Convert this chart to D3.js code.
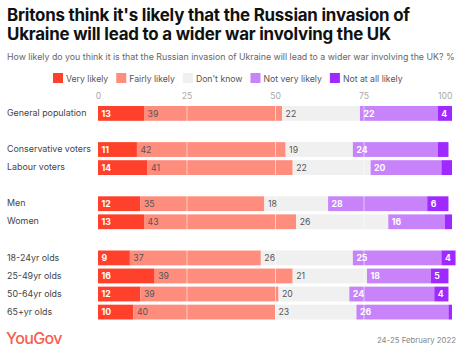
<!DOCTYPE html>
<html><head><meta charset="utf-8">
<script src="https://cdn.jsdelivr.net/npm/d3@7"></script>
<style>
html,body{margin:0;padding:0;background:#fff;}
svg{display:block;}
</style></head>
<body>
<svg id="chart" width="473" height="355"></svg>
<script>
const titleLines = ["Britons think it's likely that the Russian invasion of", "Ukraine will lead to a wider war involving the UK"];
const subtitle = "How likely do you think it is that the Russian invasion of Ukraine will lead to a wider war involving the UK? %";
const seriesNames = ["Very likely", "Fairly likely", "Don't know", "Not very likely", "Not at all likely"];
const seriesColors = ["#ff412c", "#ff8d7d", "#f0f0f0", "#c883fb", "#9f29ff"];
const labelColors = ["#fff", "#555", "#555", "#fff", "#fff"];
const categories = ["General population", null, "Conservative voters", "Labour voters", null, "Men", "Women", null, "18-24yr olds", "25-49yr olds", "50-64yr olds", "65+yr olds"];
const veryLikely     = [13, null, 11, 14, null, 12, 13, null,  9, 16, 12, 10];
const fairlyLikely   = [39, null, 42, 41, null, 35, 43, null, 37, 39, 39, 40];
const dontKnow       = [22, null, 19, 22, null, 18, 26, null, 26, 21, 20, 23];
const notVeryLikely  = [22, null, 24, 20, null, 28, 16, null, 25, 18, 24, 26];
const notAtAllLikely = [ 4, null,  3,  3, null,  6,  2, null,  4,  5,  4,  1];
const tickValues = [0, 25, 50, 75, 100];
const source = "24-25 February 2022";
const brand = "YouGov";

const series = [veryLikely, fairlyLikely, dontKnow, notVeryLikely, notAtAllLikely];
const FONT = "Inter, 'Noto Sans', sans-serif";
const svg = d3.select("#chart");

// Title
svg.append("g").selectAll("text").data(titleLines).join("text")
  .attr("x", 7).attr("y", (d,i) => 20.5 + i*19)
  .attr("font-family", FONT).attr("font-weight", 700).attr("font-size", 16.9)
  .attr("fill", "#111").attr("letter-spacing", -0.2).text(d => d);

svg.append("text").attr("x", 7).attr("y", 60)
  .attr("font-family", FONT).attr("font-size", 8.8).attr("fill", "#666")
  .text(subtitle);

// Legend
const legend = svg.append("g");
let lx = 53;
seriesNames.forEach((name, i) => {
  const g = legend.append("g").attr("transform", `translate(${lx},73)`);
  g.append("rect").attr("width", 10).attr("height", 10).attr("fill", seriesColors[i]);
  const t = g.append("text").attr("x", 13).attr("y", 8.5)
    .attr("font-family", FONT).attr("font-size", 8.7).attr("fill", "#555").text(name);
  lx += 13 + t.node().getComputedTextLength() + 8;
});

// Scales
const x = d3.scaleLinear().domain([0, 100]).range([98, 452]);
const y = d3.scaleBand().domain(d3.range(categories.length)).range([106, 319.5]).paddingInner(0.18).paddingOuter(0);

// Axis
const axis = svg.append("g").attr("transform", "translate(0,99)")
  .call(d3.axisTop(x).tickValues(tickValues).tickSize(0).tickPadding(0));
axis.select(".domain").remove();
axis.selectAll("text").attr("font-family", FONT).attr("font-size", 8.7).attr("fill", "#aaa")
  .attr("text-anchor", d => d === 100 ? "end" : "middle")
  .attr("dy", 0);

// Row labels
const rows = categories.map((c, i) => ({c, i})).filter(d => d.c !== null);
svg.append("g").selectAll("text").data(rows).join("text")
  .attr("x", 7).attr("y", d => y(d.i) + y.bandwidth()/2)
  .attr("dy", "0.3em")
  .attr("font-family", FONT).attr("font-size", 8.9).attr("fill", "#444")
  .text(d => d.c);

// Stacked bars
const stacked = [];
rows.forEach(r => {
  let cum = 0;
  series.forEach((s, k) => {
    const v = s[r.i];
    stacked.push({i: r.i, k, v, x0: cum, x1: cum + v});
    cum += v;
  });
});
svg.append("g").selectAll("rect").data(stacked).join("rect")
  .attr("x", d => x(d.x0)).attr("y", d => y(d.i))
  .attr("width", d => x(d.x1) - x(d.x0)).attr("height", y.bandwidth())
  .attr("fill", d => seriesColors[d.k]);

// Gridlines over bars
svg.append("g").selectAll("line").data([25, 50, 75]).join("line")
  .attr("x1", d => x(d) + 0.5).attr("x2", d => x(d) + 0.5)
  .attr("y1", 104).attr("y2", 320)
  .attr("stroke", "#fff").attr("stroke-opacity", 0.55).attr("stroke-width", 1);

// Value labels
svg.append("g").selectAll("text").data(stacked.filter(d => d.v >= 4)).join("text")
  .attr("x", d => x(d.x0) + 3.5).attr("y", d => y(d.i) + y.bandwidth()/2)
  .attr("dy", "0.36em")
  .attr("font-family", FONT).attr("font-size", 8.7)
  .attr("font-weight", d => labelColors[d.k] === "#fff" ? 700 : 400)
  .attr("fill", d => labelColors[d.k])
  .text(d => d.v);

// Footer
svg.append("text").attr("x", 6).attr("y", 344)
  .attr("font-family", FONT).attr("font-weight", 500).attr("font-size", 16)
  .attr("letter-spacing", -0.6).attr("fill", "#f5604f").text(brand);
svg.append("text").attr("x", 456).attr("y", 343).attr("text-anchor", "end")
  .attr("font-family", FONT).attr("font-size", 7.8).attr("fill", "#888").text(source);
</script>
</body></html>
